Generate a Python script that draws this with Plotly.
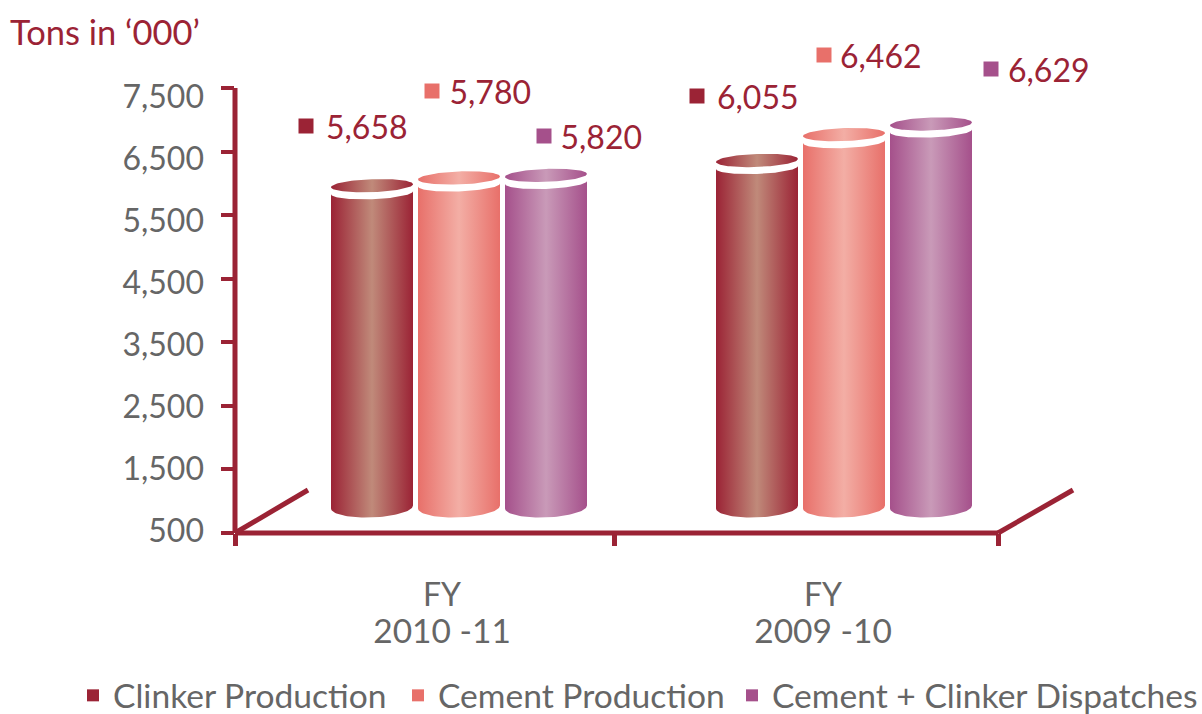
import math
import plotly.graph_objects as go

# ---- data ----
years = ["2010 -11", "2009 -10"]
series_names = ["Clinker Production", "Cement Production", "Cement + Clinker Dispatches"]
clinker = [5658, 6055]
cement = [5780, 6462]
dispatches = [5820, 6629]
y_ticks = [500, 1500, 2500, 3500, 4500, 5500, 6500, 7500]

# ---- styling ----
RED = "#9b2335"
GREY = "#666666"
FONT = "Lato"
solid = ["#9b2335", "#e8706a", "#a5508b"]
light = ["#c08a7a", "#f3aea5", "#c99ab8"]

L, R, T, B = 235, 998, 88, 533     # where the drawn axes sit
PL_R, PL_T = 1110, 40              # plot area is larger so labels above/right of the axes stay drawn
PX_X = (R - L) / 2.0
PX_Y = (B - T) / 7000.0
W_P, H_P = PL_R - L, B - PL_T
def dx(p): return p / PX_X
def dy(p): return p / PX_Y
def px2x(p): return (p - L) / PX_X
def px2y(p): return 500 + (B - p) / PX_Y
def paper_x(p): return (p - L) / W_P
def paper_y(p): return (B - p) / H_P

DEPTH = 305
BASE = 910
HALF_W = dx(41)
group_x = [px2x(459), px2x(844)]
step = dx(87)

label_px = [[(306, 126), (697, 96)], [(432, 91), (824, 55)], [(544, 136), (991, 69)]]
label_gap = [[20, 20], [17.5, 16], [16.5, 17]]
legend_px = [73, 398, 732]

values = [clinker, cement, dispatches]
fig = go.Figure()

def gradient(i):
    return dict(type="horizontal",
                colorscale=[[0, solid[i]], [0.5, light[i]], [1, solid[i]]])

N = 48
for i, vals in enumerate(values):
    for g, v in enumerate(vals):
        cx = group_x[g] + (i - 1) * step
        top = v + DEPTH
        xs, ys = [], []
        for k in range(N + 1):
            a = math.pi - math.pi * k / N
            xs.append(cx + HALF_W * math.cos(a))
            ys.append(top - dy(7) - dy(6.5) * math.sin(a) + dy(1.5) * math.cos(a))
        for k in range(N + 1):
            a = math.pi * k / N
            xs.append(cx + HALF_W * math.cos(a))
            ys.append(BASE - dy(10.5) * math.sin(a) + dy(1.5) * math.cos(a))
        fig.add_trace(go.Scatter(x=xs, y=ys, mode="lines", fill="toself", line=dict(width=0),
                                 fillgradient=gradient(i), showlegend=False, hoverinfo="skip"))
        xs, ys = [], []
        for k in range(2 * N + 1):
            a = 2 * math.pi * k / (2 * N)
            xs.append(cx + HALF_W * math.cos(a))
            ys.append(top + dy(6.5) * math.sin(a) + dy(1.5) * math.cos(a))
        fig.add_trace(go.Scatter(x=xs, y=ys, mode="lines", fill="toself", line=dict(width=0),
                                 fillgradient=gradient(i), showlegend=False, hoverinfo="skip"))

legend_ids = ["legend", "legend2", "legend3"]
for i, vals in enumerate(values):
    mx = [px2x(p[0]) for p in label_px[i]]
    my = [px2y(p[1]) for p in label_px[i]]
    fig.add_trace(go.Scatter(x=mx, y=my, mode="markers", name=series_names[i],
                             legend=legend_ids[i], showlegend=True,
                             marker=dict(symbol="square", size=15, color=solid[i])))
    fig.add_trace(go.Scatter(x=[m + dx(g) for m, g in zip(mx, label_gap[i])],
                             y=[m - dy(5) for m in my], mode="text",
                             text=[f"{v:,}" for v in vals], textposition="middle right",
                             textfont=dict(family=FONT, size=32, color=RED),
                             showlegend=False))

# invisible trace that brings up the label axis
fig.add_trace(go.Scatter(x=[0], y=[500], yaxis="y2", mode="markers", marker=dict(opacity=0),
                         showlegend=False, hoverinfo="skip"))

# axis lines and floor edges (paper-referenced so they are not clipped at the plot edge)
segments = [((L, B), (L, T), 5), ((L, B), (R, B), 5), ((L, B), (308, 490), 5), ((R, B), (1073, 490), 5)]
for (x0, y0), (x1, y1), w in segments:
    fig.add_shape(type="line", xref="paper", yref="paper",
                  x0=paper_x(x0), y0=paper_y(y0), x1=paper_x(x1), y1=paper_y(y1),
                  line=dict(color=RED, width=w), layer="above")

label_x = [px2x(442), px2x(823)]
for x in label_x:
    fig.add_annotation(x=x, y=paper_y(593), yref="paper", yanchor="middle", text="FY",
                       showarrow=False, font=dict(family=FONT, size=32, color=GREY))

fig.add_annotation(x=paper_x(8), y=paper_y(31), xref="paper", yref="paper",
                   xanchor="left", yanchor="middle", text="Tons in ‘000’", showarrow=False,
                   font=dict(family=FONT, size=34.5, color=RED))

# tick labels in the reference run on a slightly tighter scale than the tick marks
LBL_TOP, LBL_BOT = 97, 531
LBL_PX = (LBL_BOT - LBL_TOP) / 7000.0
y2_range = [500 - (B - LBL_BOT) / LBL_PX, 7500 + (LBL_TOP - PL_T) / LBL_PX]

def legend_at(px):
    return dict(orientation="v", x=paper_x(px), xanchor="left", y=paper_y(667), yanchor="top",
                font=dict(family=FONT, size=33.6, color=GREY), itemsizing="constant",
                itemwidth=30, bgcolor="rgba(0,0,0,0)")

fig.update_layout(
    width=1202, height=714, autosize=False,
    margin=dict(l=L, r=1202 - PL_R, t=PL_T, b=714 - B, autoexpand=False),
    paper_bgcolor="white", plot_bgcolor="rgba(0,0,0,0)",
    font=dict(family=FONT, size=32, color=GREY),
    showlegend=True,
    legend=legend_at(legend_px[0]),
    legend2=legend_at(legend_px[1]),
    legend3=legend_at(legend_px[2]),
    xaxis=dict(range=[0, px2x(PL_R)], showgrid=False, zeroline=False, showline=False,
               tickmode="array", tickvals=label_x, ticktext=years,
               ticks="", ticklabelstandoff=75,
               tickfont=dict(family=FONT, size=33.5, color=GREY),
               minor=dict(tickmode="array", tickvals=[0, px2x(614), 2], ticks="outside", ticklen=12,
                          tickwidth=5, tickcolor=RED)),
    yaxis=dict(range=[500, px2y(PL_T)], showgrid=False, zeroline=False, showline=False,
               tickmode="array", tickvals=y_ticks, showticklabels=False,
               ticks="outside", ticklen=13, tickwidth=4, tickcolor=RED),
    yaxis2=dict(range=y2_range, overlaying="y", side="left", anchor="x", showgrid=False,
                zeroline=False, showline=False, tickmode="array", tickvals=y_ticks,
                tickformat=",", ticks="", ticklabelstandoff=30,
                tickfont=dict(family=FONT, size=32, color=GREY)),
)
fig.write_html("out.html", config={"displayModeBar": False},
               post_script="document.body.style.margin='0';")
